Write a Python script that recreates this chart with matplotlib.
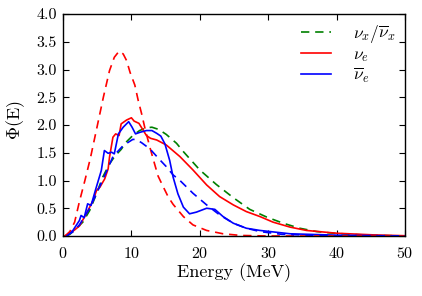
import matplotlib
matplotlib.use("Agg")
import matplotlib.pyplot as plt

plt.rcParams['font.family'] = ['cmr10', 'DejaVu Serif']
plt.rcParams['mathtext.fontset'] = 'cm'
plt.rcParams['axes.unicode_minus'] = False
plt.rcParams['axes.formatter.use_mathtext'] = True

# nu_x / anti-nu_x (green dashed)
x_nux = [0.5, 1.0, 1.9, 2.9, 3.9, 4.8, 5.8, 6.8, 7.6, 8.5, 9.3, 10.2, 11.2, 12.2, 13.0, 14.0, 15.1, 16.6, 17.6, 20.0, 22.4, 24.9, 27.3, 29.8, 32.2, 34.6, 37.1, 39.5, 44.4, 50.0]
y_nux = [0.0, 0.03, 0.13, 0.25, 0.46, 0.73, 1.06, 1.30, 1.44, 1.56, 1.70, 1.81, 1.90, 1.95, 1.96, 1.92, 1.83, 1.67, 1.52, 1.19, 0.93, 0.69, 0.48, 0.34, 0.23, 0.14, 0.08, 0.05, 0.015, 0.0]

# nu_e (red solid)
x_nue = [0.25, 1.0, 1.7, 2.4, 3.4, 4.4, 4.9, 5.4, 6.1, 6.6, 6.8, 7.3, 7.7, 8.2, 8.5, 9.3, 10.0, 10.4, 11.1, 11.6, 12.2, 12.8, 13.7, 15.1, 17.1, 19.0, 21.0, 22.9, 24.9, 26.8, 28.8, 30.7, 33.2, 35.6, 40.0, 45.4, 50.0]
y_nue = [0.0, 0.05, 0.11, 0.18, 0.40, 0.64, 0.82, 0.88, 1.03, 1.21, 1.42, 1.78, 1.84, 1.81, 2.02, 2.09, 2.13, 2.07, 2.03, 1.93, 1.81, 1.76, 1.73, 1.64, 1.43, 1.19, 0.92, 0.71, 0.56, 0.44, 0.35, 0.25, 0.16, 0.10, 0.05, 0.02, 0.005]

# anti-nu_e (blue solid)
x_anue = [0.45, 1.45, 2.4, 2.64, 3.1, 3.6, 4.1, 4.8, 5.6, 6.05, 6.6, 7.1, 7.5, 8.1, 8.8, 9.6, 10.1, 10.6, 11.3, 12.2, 13.0, 13.7, 14.3, 14.9, 15.6, 16.1, 16.8, 17.6, 18.5, 19.5, 21.0, 22.2, 23.4, 24.9, 26.8, 28.8, 33.2, 40.0, 50.0]
y_anue = [0.0, 0.10, 0.28, 0.37, 0.33, 0.58, 0.55, 0.85, 1.18, 1.54, 1.49, 1.51, 1.48, 1.84, 1.96, 2.06, 1.96, 1.84, 1.87, 1.90, 1.90, 1.85, 1.80, 1.66, 1.36, 1.06, 0.76, 0.52, 0.40, 0.43, 0.50, 0.48, 0.35, 0.23, 0.14, 0.10, 0.04, 0.015, 0.0]

# nu_e (red dashed)
x_nue_d = [0.3, 1.0, 1.7, 2.4, 3.2, 4.0, 4.9, 5.9, 6.8, 7.5, 8.2, 8.8, 9.3, 9.8, 10.5, 11.0, 11.5, 12.0, 12.7, 13.2, 13.9, 14.6, 15.4, 16.1, 17.6, 19.0, 21.0, 23.4, 26.0, 30.0, 50.0]
y_nue_d = [0.0, 0.08, 0.25, 0.62, 1.00, 1.40, 1.92, 2.50, 2.98, 3.22, 3.33, 3.28, 3.16, 2.95, 2.72, 2.44, 2.20, 1.93, 1.60, 1.38, 1.08, 0.90, 0.70, 0.57, 0.35, 0.20, 0.10, 0.04, 0.01, 0.0, 0.0]

# anti-nu_e (blue dashed)
x_anue_d = [0.5, 1.5, 2.4, 3.9, 5.4, 6.5, 7.3, 8.8, 10.2, 10.7, 11.5, 12.7, 14.1, 15.1, 16.1, 17.1, 19.0, 21.0, 22.9, 24.9, 26.8, 28.8, 32.0, 40.0, 50.0]
y_anue_d = [0.0, 0.08, 0.20, 0.50, 0.90, 1.20, 1.43, 1.63, 1.74, 1.74, 1.68, 1.57, 1.38, 1.25, 1.10, 1.00, 0.77, 0.56, 0.38, 0.23, 0.14, 0.08, 0.03, 0.0, 0.0]

fig = plt.figure(figsize=(4.22, 2.96), dpi=100)
ax = fig.add_axes([63/422, 1-236/296, (405-63)/422, (236-14)/296])

dash = (5, 3.5)
ax.plot(x_nux, y_nux, color='green', lw=1.2, ls='--', dashes=dash, label=r'$\nu_x/\overline{\nu}_x$')
ax.plot(x_nue, y_nue, color='red', lw=1.2, label=r'$\nu_e$')
ax.plot(x_anue, y_anue, color='blue', lw=1.2, label=r'$\overline{\nu}_e$')
ax.plot(x_nue_d, y_nue_d, color='red', lw=1.2, ls='--', dashes=dash)
ax.plot(x_anue_d, y_anue_d, color='blue', lw=1.2, ls='--', dashes=dash)

ax.set_xlim(0, 50)
ax.set_ylim(0, 4.0)
ax.set_xticks([0, 10, 20, 30, 40, 50])
ax.set_yticks([0.0, 0.5, 1.0, 1.5, 2.0, 2.5, 3.0, 3.5, 4.0])
ax.set_yticklabels(['0.0', '0.5', '1.0', '1.5', '2.0', '2.5', '3.0', '3.5', '4.0'])
ax.tick_params(direction='in', top=True, right=True, labelsize=11.5, length=4)
ax.tick_params(axis='x', pad=7)
ax.tick_params(axis='y', pad=4.5)
ax.set_xlabel('Energy (MeV)', fontsize=13, labelpad=2)
ax.set_ylabel(r'$\Phi$(E)', fontsize=13)
ax.yaxis.set_label_coords(-0.105, 0.52)
for s in ax.spines.values():
    s.set_linewidth(1.0)

ax.legend(loc='upper right', frameon=False, fontsize=12.5, handlelength=1.7,
          borderaxespad=0.05, borderpad=0.45, labelspacing=0.12, handletextpad=1.3)

fig.savefig('out.png', dpi=100)
